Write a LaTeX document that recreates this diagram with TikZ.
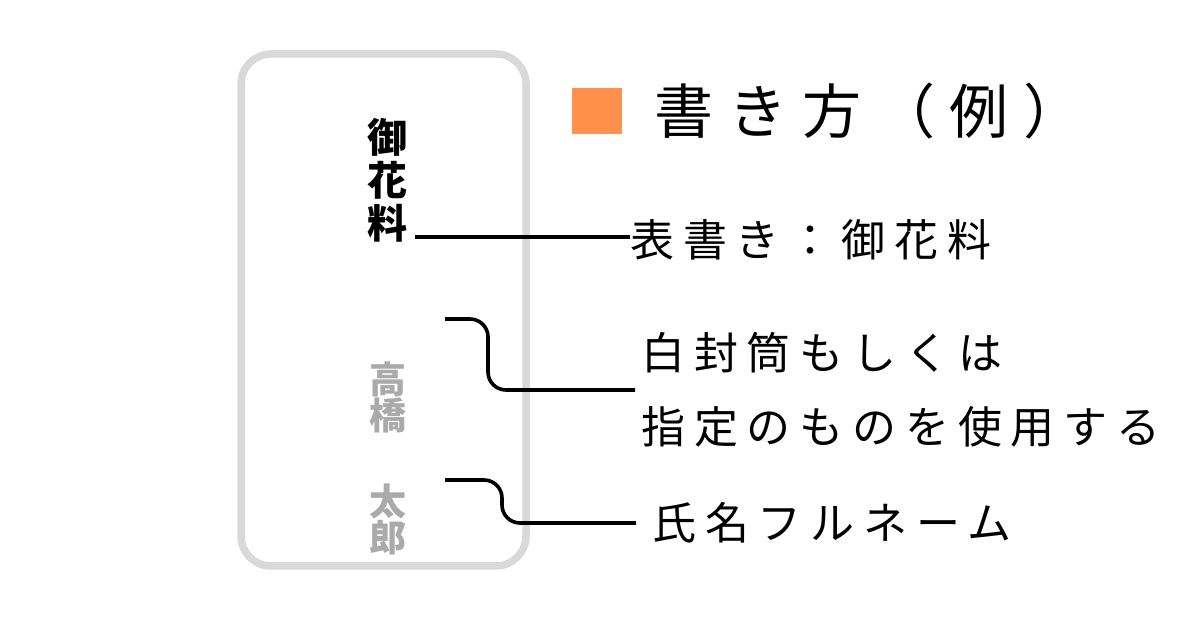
\documentclass[tikz,border=0pt]{standalone}
\usepackage{fontspec}
\newfontfamily\cjk{Noto Sans CJK JP}
\usepackage{xcolor}
\usepackage{tikz}
\usetikzlibrary{positioning}
\definecolor{markorange}{RGB}{255,145,77}
\definecolor{envgray}{RGB}{217,217,217}
\definecolor{namegray}{RGB}{170,170,170}
\tikzset{
envelope/.style={
draw=envgray,
line width=3.75pt,
rounded corners=15pt
},
vtext/.style={
align=center,
inner sep=0pt,
font=\cjk\fontsize{20pt}{21.5pt}\selectfont
},
note/.style={
anchor=west,
align=left,
inner sep=0pt,
font=\cjk\addfontfeature{LetterSpace=20}\fontsize{22pt}{37pt}\selectfont
},
heading/.style={
inner sep=0pt,
font=\cjk\addfontfeature{LetterSpace=25}\fontsize{29.5pt}{29.5pt}\selectfont
},
leader/.style={
line width=1.8pt,
rounded corners=9pt
}
}

\begin{document}
\begin{tikzpicture}[x=0.5pt,y=-0.5pt]
\useasboundingbox (0,0) rectangle (1200,630);
% envelope
\draw[envelope] (241,54) rectangle (526,566);
\node[vtext,font=\cjk\bfseries\fontsize{20pt}{21.5pt}\selectfont] (omote) at (387,180) {御\\花\\料};
\node[vtext,text=namegray,font=\cjk\bfseries\fontsize{18.5pt}{18pt}\selectfont] (namae) at (388,458) {高\\橋\\[25pt]太\\郎};
% heading
\node[fill=markorange,minimum width=25pt,minimum height=23pt,inner sep=0pt] (mark) at (597,111) {};
\node[heading,right=16pt of mark] (title) {書き方（例）};
% notes
\node[note] (hyo) at (630,240) {表書き：御花料};
\node[note] (fuutou) at (641,390) {白封筒もしくは\\指定のものを使用する};
\node[note] (shimei) at (652,523) {氏名フルネーム};
\coordinate (p1) at (415,237);
\coordinate (p2) at (445,319);
\coordinate (p3) at (445,480);
% leaders
\draw[leader] (p1) -- (p1 -| hyo.west);
\draw[leader] (p2) -- ++(43,0) |- ([xshift=-3pt]fuutou.west);
\draw[leader] (p3) -- ++(57,0) |- ([xshift=-8pt]shimei.west);
\end{tikzpicture}
\end{document}
